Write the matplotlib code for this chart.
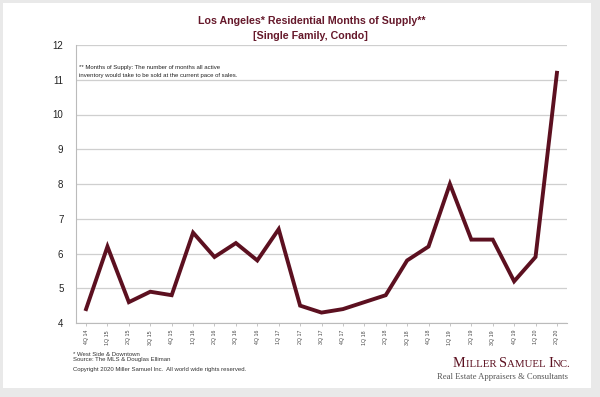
import matplotlib
matplotlib.use("Agg")
from matplotlib import pyplot as plt
from matplotlib.patches import Rectangle

plt.rcParams["font.family"] = ["Liberation Sans", "DejaVu Sans"]

# Quarterly months of supply
quarters = ["4Q 14", "1Q 15", "2Q 15", "3Q 15", "4Q 15", "1Q 16", "2Q 16",
            "3Q 16", "4Q 16", "1Q 17", "2Q 17", "3Q 17", "4Q 17", "1Q 18",
            "2Q 18", "3Q 18", "4Q 18", "1Q 19", "2Q 19", "3Q 19", "4Q 19",
            "1Q 20", "2Q 20"]
months_supply = [4.4, 6.2, 4.6, 4.9, 4.8, 6.6, 5.9, 6.3, 5.8, 6.7, 4.5, 4.3,
                 4.4, 4.6, 4.8, 5.8, 6.2, 8.0, 6.4, 6.4, 5.2, 5.9, 11.2]
y_ticks = [4, 5, 6, 7, 8, 9, 10, 11, 12]

maroon = "#5c1020"
title_color = "#66192b"
W, H = 600, 397

fig = plt.figure(figsize=(6, 3.97), dpi=100)
fig.patch.set_facecolor("#e9e9e9")
# white card behind everything
fig.patches.append(Rectangle((3 / W, 1 - 388 / H), 588 / W, 385 / H,
                             transform=fig.transFigure, facecolor="white",
                             edgecolor="none", zorder=-5))

ax = fig.add_axes([76 / W, 1 - 323 / H, 491 / W, 278 / H])
ax.set_facecolor("none")
x = list(range(len(quarters)))
ax.plot(x, months_supply, color=maroon, linewidth=2.8, solid_joinstyle="miter",
        zorder=3)

ax.set_xlim(-0.47, len(quarters) - 0.53)
ax.set_ylim(4, 12)
ax.set_yticks(y_ticks)
ax.set_yticklabels([str(v) for v in y_ticks], fontsize=7, color="#222222")
ax.set_xticks(x)
ax.set_xticklabels(quarters, rotation=90, fontsize=3.8, color="#444444")
ax.tick_params(axis="y", length=0, pad=9)
ax.tick_params(axis="x", length=2, width=0.6, color="#bbbbbb", pad=3)
ax.grid(axis="y", color="#cfcfcf", linewidth=0.9, zorder=1)
for side in ["top", "right"]:
    ax.spines[side].set_visible(False)
ax.spines["left"].set_color("#bbbbbb")
ax.spines["left"].set_linewidth(0.8)
ax.spines["bottom"].set_color("#bbbbbb")
ax.spines["bottom"].set_linewidth(0.8)

# title
fig.text(312 / W, 1 - 21 / H, "Los Angeles* Residential Months of Supply**",
         ha="center", va="center", fontsize=7.7, fontweight="bold",
         color=title_color)
fig.text(310 / W, 1 - 36 / H, "[Single Family, Condo]",
         ha="center", va="center", fontsize=7.7, fontweight="bold",
         color=title_color)

# note in plot
fig.text(79 / W, 1 - 68 / H, "** Months of Supply: The number of months all active",
         ha="left", va="center", fontsize=4.3, color="#222222")
fig.text(79 / W, 1 - 76 / H, "inventory would take to be sold at the current pace of sales.",
         ha="left", va="center", fontsize=4.3, color="#222222")

# footnotes
fig.text(73 / W, 1 - 354 / H, "* West Side & Downtown", ha="left", va="center",
         fontsize=4.3, color="#333333")
fig.text(73 / W, 1 - 360 / H, "Source: The MLS & Douglas Elliman", ha="left",
         va="center", fontsize=4.3, color="#333333")
fig.text(73 / W, 1 - 370 / H,
         "Copyright 2020 Miller Samuel Inc.  All world wide rights reserved.",
         ha="left", va="center", fontsize=4.3, color="#333333")

# logo in small caps
fig.canvas.draw()
renderer = fig.canvas.get_renderer()
parts = [("M", 10.2), ("ILLER ", 7.8), ("S", 10.2), ("AMUEL ", 7.8), ("I", 10.2),
         ("NC.", 7.8)]
xpos = 453
for txt, size in parts:
    t = fig.text(xpos / W, 1 - 367 / H, txt, ha="left", va="baseline",
                 fontsize=size, family="Liberation Serif", color=maroon)
    bb = t.get_window_extent(renderer)
    xpos += bb.width
fig.text(568 / W, 1 - 377 / H, "Real Estate Appraisers & Consultants",
         ha="right", va="center", fontsize=6.2, family="Liberation Serif",
         color="#555555")

fig.savefig("out.png", dpi=100, facecolor=fig.get_facecolor())
